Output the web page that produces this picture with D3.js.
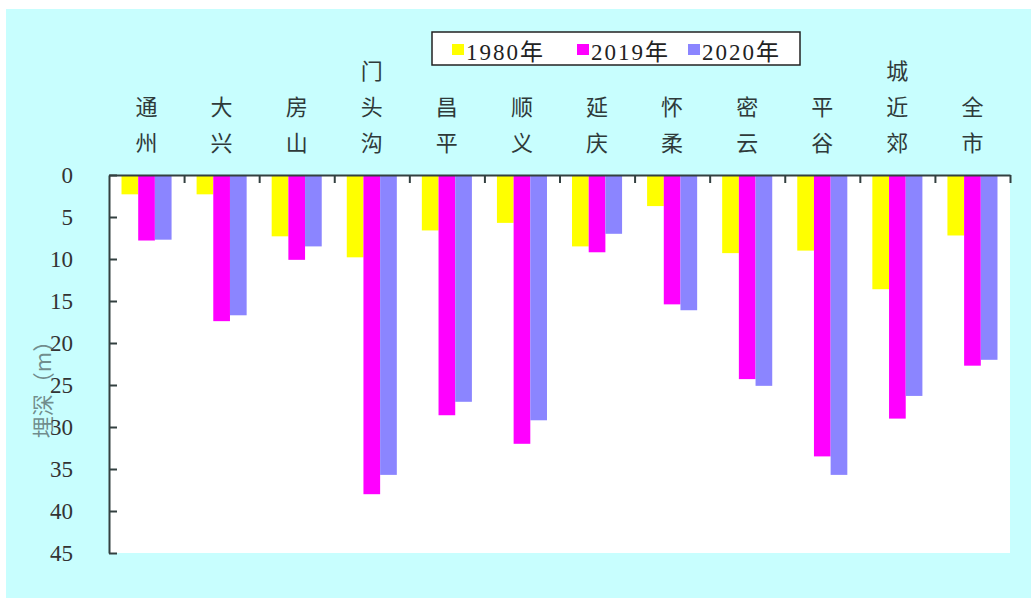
<!DOCTYPE html>
<html>
<head>
<meta charset="utf-8">
<script src="https://d3js.org/d3.v7.min.js"></script>
<style>
  body { margin: 0; background: #fff; }
  svg { display: block; }
</style>
</head>
<body>
<div id="chart"></div>
<script>
// data (depth in m)
const categories = ["通州", "大兴", "房山", "门头沟", "昌平", "顺义", "延庆", "怀柔", "密云", "平谷", "城近郊", "全市"];
const seriesNames = ["1980年", "2019年", "2020年"];
const colors = ["#ffff00", "#ff00ff", "#8b85ff"];
const values1980 = [2.3, 2.3, 7.3, 9.8, 6.6, 5.7, 8.5, 3.7, 9.3, 9.0, 13.6, 7.2];
const values2019 = [7.8, 17.4, 10.1, 38.0, 28.6, 32.0, 9.2, 15.4, 24.3, 33.5, 29.0, 22.7];
const values2020 = [7.7, 16.7, 8.5, 35.7, 27.0, 29.2, 7.0, 16.1, 25.1, 35.7, 26.3, 22.0];
const yTicks = [0, 5, 10, 15, 20, 25, 30, 35, 40, 45];

const seriesValues = [values1980, values2019, values2020];
const rows = categories.map((c, i) => ({
  category: c,
  values: seriesNames.map((s, j) => ({ series: s, value: seriesValues[j][i], color: colors[j] }))
}));

const width = 1036;
const height = 602;
const plotLeft = 109, plotRight = 1010, plotTop = 175, plotBottom = 553;

const svg = d3.select("#chart").append("svg")
  .attr("width", width)
  .attr("height", height);

// background panel
svg.append("rect")
  .attr("x", 6).attr("y", 9)
  .attr("width", width - 11).attr("height", height - 13)
  .attr("fill", "#c8fefe");

// plot area
svg.append("rect")
  .attr("x", plotLeft).attr("y", plotTop)
  .attr("width", plotRight - plotLeft).attr("height", plotBottom - plotTop)
  .attr("fill", "#ffffff");

// scales
const x0 = d3.scaleBand().domain(categories).range([plotLeft, plotRight]);
const x1 = d3.scaleBand().domain(seriesNames).range([0, x0.bandwidth()]).paddingInner(0).paddingOuter(0.75);
const y = d3.scaleLinear().domain([0, 45]).range([plotTop, plotBottom]);
const xEdge = d3.scaleLinear().domain([0, categories.length]).range([plotLeft, plotRight]);

// bars
const groups = svg.append("g")
  .selectAll("g")
  .data(rows)
  .enter()
  .append("g")
  .attr("transform", d => "translate(" + x0(d.category) + ",0)");

groups.selectAll("rect")
  .data(d => d.values)
  .enter()
  .append("rect")
  .attr("x", d => x1(d.series))
  .attr("y", y(0))
  .attr("width", x1.bandwidth())
  .attr("height", d => y(d.value) - y(0))
  .attr("fill", d => d.color);

// left axis (ticks point inward)
const yAxis = svg.append("g")
  .attr("transform", "translate(" + plotLeft + ",0)")
  .call(d3.axisLeft(y).tickValues(yTicks).tickSizeInner(-8).tickSizeOuter(0).tickPadding(36));
yAxis.select(".domain").attr("stroke", "#334040").attr("stroke-width", 2);
yAxis.selectAll(".tick line").attr("stroke", "#334040").attr("stroke-width", 2);
yAxis.selectAll(".tick text")
  .attr("font-family", "'Liberation Serif', serif")
  .attr("font-size", 23)
  .attr("fill", "#333");

// top axis with ticks at category boundaries
const xAxis = svg.append("g")
  .attr("transform", "translate(0," + plotTop + ")")
  .call(d3.axisTop(xEdge).tickValues(d3.range(1, categories.length + 1)).tickSizeInner(-8).tickSizeOuter(0).tickFormat(""));
xAxis.select(".domain").attr("stroke", "#334040").attr("stroke-width", 2);
xAxis.selectAll(".tick line").attr("stroke", "#334040").attr("stroke-width", 2);

// category labels, written vertically, bottom aligned
const lineGap = 36;
const labelBase = 151;
categories.forEach(c => {
  const chars = Array.from(c);
  const cx = x0(c) + x0.bandwidth() / 2;
  chars.forEach((ch, k) => {
    svg.append("text")
      .attr("x", cx)
      .attr("y", labelBase - (chars.length - 1 - k) * lineGap)
      .attr("text-anchor", "middle")
      .attr("font-family", "'Noto Sans CJK SC', sans-serif")
      .attr("font-size", 22)
      .attr("fill", "#2f3a3a")
      .text(ch);
  });
});

// y axis title
svg.append("text")
  .attr("transform", "translate(51,384) rotate(-90)")
  .attr("text-anchor", "middle")
  .attr("font-family", "'Noto Sans CJK SC', sans-serif")
  .attr("font-size", 22)
  .attr("fill", "#4a5a5a")
  .attr("fill-opacity", 0.7)
  .text("埋深（m）");

// legend
const legend = svg.append("g");
legend.append("rect")
  .attr("x", 432).attr("y", 32)
  .attr("width", 368).attr("height", 33)
  .attr("fill", "#fff")
  .attr("stroke", "#222")
  .attr("stroke-width", 1.5);

const legendX = [452, 577, 688];
seriesNames.forEach((s, i) => {
  legend.append("rect")
    .attr("x", legendX[i]).attr("y", 44)
    .attr("width", 12).attr("height", 11)
    .attr("fill", colors[i]);
  legend.append("text")
    .attr("x", legendX[i] + 14)
    .attr("y", 60)
    .attr("font-family", "'Liberation Serif', 'Noto Sans CJK SC', serif")
    .attr("font-size", 23)
    .attr("letter-spacing", 2)
    .attr("fill", "#222")
    .text(s);
});
</script>
</body>
</html>
